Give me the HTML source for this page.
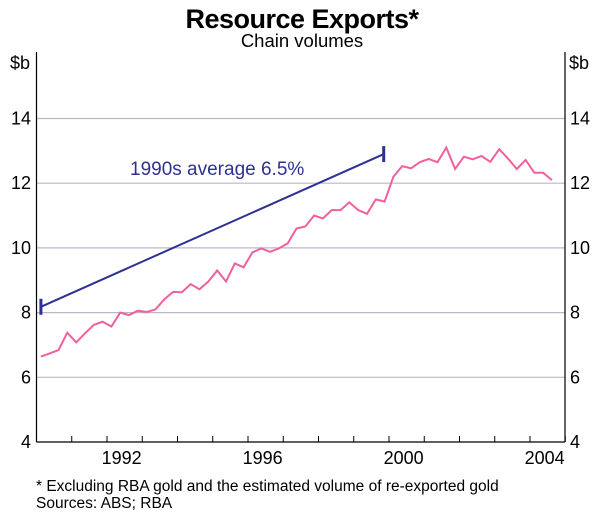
<!DOCTYPE html>
<html><head><meta charset="utf-8"><style>
body{margin:0;background:#fff;font-family:"Liberation Sans",Arial,sans-serif}
svg text{font-family:"Liberation Sans",Arial,sans-serif}
</style></head><body>
<svg width="600" height="517" viewBox="0 0 600 517" xmlns="http://www.w3.org/2000/svg">
<text x="302" y="28" text-anchor="middle" font-size="27" font-weight="bold" letter-spacing="-0.5">Resource Exports*</text>
<text x="302" y="47" text-anchor="middle" font-size="18.5">Chain volumes</text>
<text x="10" y="69" font-size="18">$b</text>
<text x="569" y="69" font-size="18">$b</text>
<g id="grid"></g>
<g id="axes"></g>
<g id="series"></g>
<text x="130" y="175" font-size="19" fill="#2e3192">1990s average 6.5%</text>
<text x="36" y="491" font-size="15.5">*   Excluding RBA gold and the estimated volume of re-exported gold</text>
<text x="36" y="508" font-size="15.5">Sources: ABS; RBA</text>
</svg>
<script>
const yTicks=[4,6,8,10,12,14];
const yearLabels=[1992,1996,2000,2004];
const startYear=1990.125;
const exportsValues=[6.64,6.74,6.84,7.38,7.08,7.36,7.62,7.72,7.57,8.0,7.92,8.06,8.02,8.10,8.41,8.64,8.63,8.88,8.72,8.96,9.30,8.96,
9.52,9.40,9.86,9.98,9.88,9.98,10.14,10.6,10.66,11.0,10.91,11.17,
11.17,11.41,11.17,11.05,11.50,11.43,12.2,12.53,12.46,12.65,12.75,12.65,13.1,12.44,12.82,12.74,12.84,12.66,13.05,12.76,12.44,12.72,12.32,12.32,12.09];
const avgYears=[1990.125,1999.85];
const avgValues=[8.18,12.9];
const NS="http://www.w3.org/2000/svg";
const X0=36.5,X1=565,Y0=442;
const xs=t=>X0+(t-1990)*35.25;
const ys=v=>Y0-(v-4)*32.35;
function mk(tag,attrs,parent){const e=document.createElementNS(NS,tag);for(const k in attrs)e.setAttribute(k,attrs[k]);parent.appendChild(e);return e;}
const grid=document.getElementById('grid'),axes=document.getElementById('axes'),series=document.getElementById('series');
yTicks.forEach(v=>{
 if(v>4){const g=mk('line',{x1:X0,x2:X1,y1:ys(v),y2:ys(v),stroke:'#b8b8c8','stroke-width':1.2},grid);
 
 }
 const l=mk('text',{x:31,y:ys(v)+6,'text-anchor':'end','font-size':18},axes);l.textContent=v;
 
 
 const r=mk('text',{x:570,y:ys(v)+6,'font-size':18},axes);r.textContent=v;
 
 
});
mk('line',{x1:X0,x2:X0,y1:52,y2:Y0,stroke:'#000','stroke-width':1.2},axes);
mk('line',{x1:X1,x2:X1,y1:52,y2:Y0,stroke:'#000','stroke-width':1.2},axes);
mk('line',{x1:X0,x2:X1,y1:Y0,y2:Y0,stroke:'#000','stroke-width':1.2},axes);
for(let y=1990;y<=2005;y++){mk('line',{x1:xs(y),x2:xs(y),y1:Y0,y2:Y0-6,stroke:'#000','stroke-width':1},axes);}
yearLabels.forEach(y=>{const t=mk('text',{x:xs(y+0.5)-3,y:Y0+22,'text-anchor':'middle','font-size':18},axes);t.textContent=y;
 
 });
const pts=exportsValues.map((v,i)=>xs(startYear+i*0.25).toFixed(1)+','+ys(v).toFixed(1)).join(' ');
const pl=mk('polyline',{points:pts,fill:'none',stroke:'#f0609e','stroke-width':2},series);


const al=mk('line',{x1:xs(avgYears[0]),y1:ys(avgValues[0]),x2:xs(avgYears[1]),y2:ys(avgValues[1]),stroke:'#2e3192','stroke-width':2},series);


[0,1].forEach(i=>{const c=mk('line',{x1:xs(avgYears[i]),x2:xs(avgYears[i]),y1:ys(avgValues[i])-8,y2:ys(avgValues[i])+8,stroke:'#2e3192','stroke-width':3},series);
 
 });
</script>
</body></html>
